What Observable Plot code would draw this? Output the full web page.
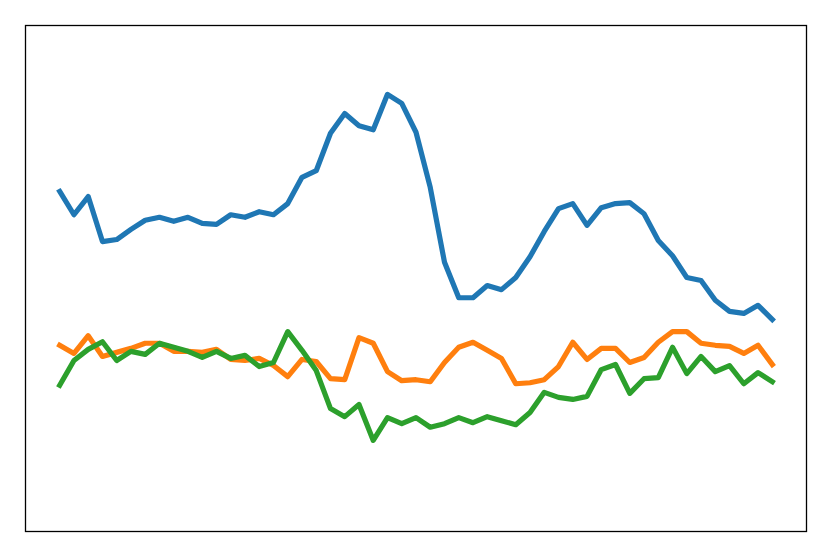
<!DOCTYPE html>
<html>
<head>
<meta charset="utf-8">
<script src="https://cdn.jsdelivr.net/npm/d3@7"></script>
<script src="https://cdn.jsdelivr.net/npm/@observablehq/plot@0.6"></script>
<style>
  html, body { margin: 0; padding: 0; background: #fff; }
  #chart svg { display: block; }
</style>
</head>
<body>
<div id="chart"></div>
<script>
const series1 = [6.72, 6.26, 6.62, 5.73, 5.77, 5.97, 6.15, 6.21, 6.13, 6.21,
  6.09, 6.07, 6.26, 6.21, 6.32, 6.26, 6.48, 7.00, 7.13, 7.87,
  8.26, 8.02, 7.94, 8.64, 8.46, 7.89, 6.80, 5.32, 4.62, 4.62,
  4.86, 4.78, 5.02, 5.43, 5.93, 6.38, 6.48, 6.05, 6.40, 6.48,
  6.50, 6.28, 5.75, 5.45, 5.02, 4.96, 4.57, 4.35, 4.31, 4.47, 4.19];
const series2 = [3.68, 3.52, 3.87, 3.46, 3.54, 3.62, 3.72, 3.72, 3.56, 3.56,
  3.54, 3.60, 3.40, 3.38, 3.42, 3.28, 3.06, 3.40, 3.36, 3.02,
  3.00, 3.83, 3.72, 3.16, 2.98, 3.00, 2.96, 3.34, 3.64, 3.74,
  3.58, 3.42, 2.92, 2.94, 3.00, 3.26, 3.74, 3.40, 3.62, 3.62,
  3.34, 3.44, 3.74, 3.95, 3.95, 3.72, 3.68, 3.66, 3.52, 3.68, 3.30];
const series3 = [2.89, 3.38, 3.60, 3.75, 3.38, 3.56, 3.50, 3.72, 3.64, 3.56,
  3.44, 3.56, 3.42, 3.48, 3.26, 3.34, 3.95, 3.58, 3.18, 2.43,
  2.27, 2.51, 1.80, 2.25, 2.13, 2.25, 2.06, 2.13, 2.25, 2.15,
  2.27, 2.19, 2.11, 2.35, 2.75, 2.65, 2.61, 2.67, 3.20, 3.30,
  2.73, 3.02, 3.04, 3.64, 3.12, 3.46, 3.16, 3.28, 2.92, 3.14, 2.96];

const seriesNames = ["s1", "s2", "s3"];
const seriesValues = [series1, series2, series3];
const seriesColors = ["#1f77b4", "#ff7f0e", "#2ca02c"];

const rows = [];
seriesValues.forEach((vals, s) => vals.forEach((v, i) => rows.push({series: seriesNames[s], i, v})));

const chart = Plot.plot({
  width: 831,
  height: 557,
  marginLeft: 25,
  marginRight: 25,
  marginTop: 25,
  marginBottom: 26,
  x: {domain: [-2.4, 52.4], axis: null},
  y: {domain: [0, 10], axis: null},
  color: {type: "ordinal", domain: seriesNames, range: seriesColors},
  marks: [
    Plot.line(rows, {x: "i", y: "v", z: "series", stroke: "series", strokeWidth: 5.2, strokeLinejoin: "round", strokeLinecap: "square"}),
    Plot.frame({stroke: "#000", strokeWidth: 1.3})
  ]
});
document.getElementById("chart").appendChild(chart);
</script>
</body>
</html>
